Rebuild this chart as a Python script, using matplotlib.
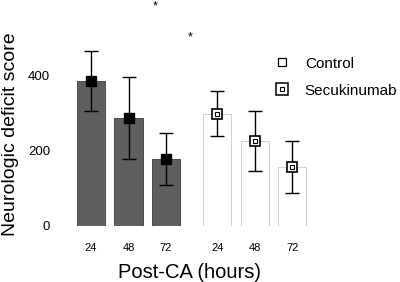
import matplotlib
matplotlib.use("Agg")
import matplotlib.pyplot as plt
from matplotlib.lines import Line2D
import numpy as np

plt.rcParams['font.family'] = ['Liberation Sans', 'DejaVu Sans']

hours = ["24", "48", "72"]
control_mean = [387, 288, 179]
control_err = [80, 109, 70]
secu_mean = [299, 227, 157]
secu_err = [60, 80, 70]

fig = plt.figure(figsize=(4.0, 2.82), dpi=100)
fig.patch.set_facecolor("white")

# axes placed in pixel terms: x from 60 to 340 px, y zero at 226 px
W, H = 400.0, 282.0
unit = 37.5
left_px, right_px = 60, 340
x0_px = 91
ax = fig.add_axes([left_px / W, (H - 226) / H, (right_px - left_px) / W, 206.25 / H])
ax.set_xlim(-(x0_px - left_px) / unit, (right_px - x0_px) / unit)
ax.set_ylim(0, 550)

pos_c = np.arange(3)
pos_s = np.arange(3) + 3.37
width = 0.75

ax.bar(pos_c, control_mean, width, color="#5f5f5f", edgecolor="#3a3a3a", linewidth=0.6, zorder=1)
ax.bar(pos_s, secu_mean, width, color="white", edgecolor="#c8c8c8", linewidth=0.6, zorder=1)

ax.errorbar(pos_c, control_mean, yerr=control_err, fmt="none", ecolor="black",
            elinewidth=1, capsize=5, capthick=1, zorder=2)
ax.errorbar(pos_s, secu_mean, yerr=secu_err, fmt="none", ecolor="black",
            elinewidth=1, capsize=5, capthick=1, zorder=2)

ax.plot(pos_c, control_mean, "s", ms=7, mfc="black", mec="black", mew=1, ls="none", zorder=3)
ax.plot(pos_s, secu_mean, "s", ms=7.5, mfc="white", mec="black", mew=1.2, ls="none", zorder=3)
ax.plot(pos_s, secu_mean, "s", ms=2.5, mfc="white", mec="black", mew=0.8, ls="none", zorder=4)

for s in ax.spines.values():
    s.set_visible(False)
ax.set_yticks([0, 200, 400])
ax.set_yticklabels(["0", "200", "400"], fontsize=9.5)
ax.set_xticks(list(pos_c) + list(pos_s))
ax.set_xticklabels(hours + hours, fontsize=8)
ax.tick_params(length=0)
ax.tick_params(axis="x", pad=12)
ax.tick_params(axis="y", pad=7)
ax.set_xlabel("Post-CA (hours)", fontsize=14.5)
ax.xaxis.set_label_coords((189.5 - left_px) / (right_px - left_px), -37 / 206.25)
ax.set_ylabel("Neurologic deficit score", fontsize=14)
ax.yaxis.set_label_coords(-(60 - 19) / (right_px - left_px), (226 - 134) / 206.25)

h_ctrl = Line2D([], [], marker="s", ms=6, mfc="white", mec="black", mew=0.9, ls="none")
h_secu_out = Line2D([], [], marker="s", ms=8, mfc="white", mec="black", mew=1.1, ls="none")
h_secu_in = Line2D([], [], marker="s", ms=3, mfc="white", mec="black", mew=0.8, ls="none")
ax.legend([h_ctrl, (h_secu_out, h_secu_in)], ["Control", "Secukinumab"],
          loc="upper left", bbox_to_anchor=(259 / W, 1 - 43 / H), bbox_transform=fig.transFigure,
          frameon=False, fontsize=11, handlelength=1.2, handletextpad=0.9, labelspacing=0.85)

fig.text(155 / W, 1 - 6 / H, "*", fontsize=9, ha="center", va="center")
fig.text(190 / W, 1 - 37 / H, "*", fontsize=9, ha="center", va="center")

fig.savefig("out.png", dpi=100, facecolor="white")
